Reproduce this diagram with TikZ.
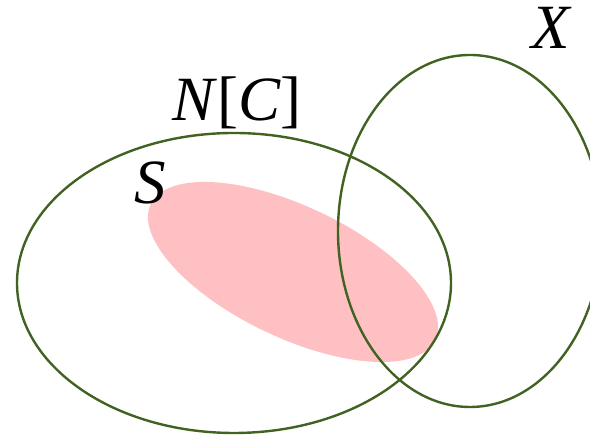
\documentclass[tikz,border=0pt]{standalone}
\usepackage{fontspec}
\setmainfont{Liberation Serif}
\usetikzlibrary{shapes.geometric}
\definecolor{setgreen}{RGB}{66,98,34}
\definecolor{setpink}{RGB}{255,192,195}
\tikzset{
  setline/.style={draw=setgreen, line width=2.4pt},
  lbl/.style={anchor=base, inner sep=0pt, font=\fontsize{63}{70}\selectfont}
}
\begin{document}
\begin{tikzpicture}[x=1pt,y=1pt]
\useasboundingbox (0,0) rectangle (590,435);
\clip (0,0) rectangle (590,435);
% pink set S
\fill[setpink, rotate around={-25.5:(293,163)}] (293,163) ellipse [x radius=157.6, y radius=65.6];
% N[C]
\draw[setline] (234,152) ellipse [x radius=217, y radius=150];
% X
\draw[setline] (470,204) ellipse [x radius=132, y radius=176];
\node[lbl] (nc) at (237,314) {\textit{N}[\textit{C}]};
\node[lbl] (s) at (150,231) {\textit{S}};
\node[lbl] (x) at (552,386) {\textit{X}};
\end{tikzpicture}
\end{document}
